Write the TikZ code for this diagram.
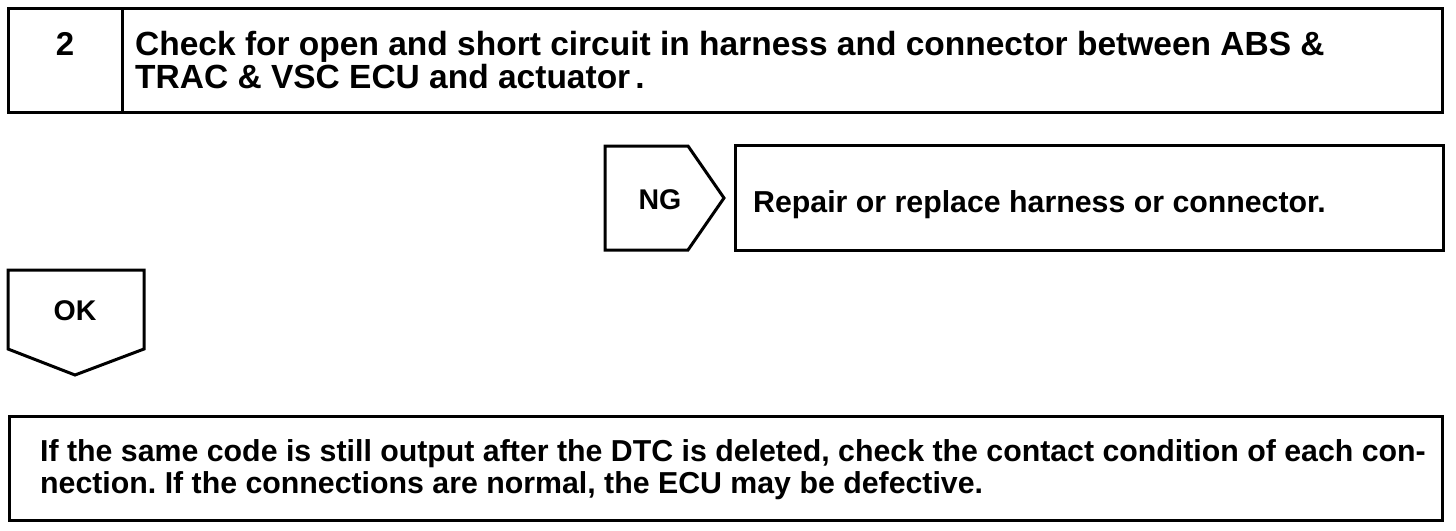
\documentclass[tikz,border=0pt]{standalone}
\usepackage{fontspec}
\setmainfont{Liberation Sans}
\frenchspacing
\begin{document}
\begin{tikzpicture}[x=1pt,y=-1pt,
  boxline/.style={draw=black, line width=3pt, line join=miter},
  plainbox/.style={boxline, inner sep=0pt, outer sep=0pt},
  head/.style={font=\fontsize{33.5}{33.5}\selectfont\bfseries, anchor=base west, inner sep=0pt},
  body/.style={font=\fontsize{30.3}{30.3}\selectfont\bfseries, anchor=base west, inner sep=0pt},
  tag/.style={font=\fontsize{28.5}{28.5}\selectfont\bfseries, anchor=base, inner sep=0pt}]
\useasboundingbox (0,0) rectangle (1456,530);
% step header
\node[plainbox, minimum width=114pt, minimum height=104pt] (numbox) at (65,60) {};
\node[plainbox, minimum width=1320pt, minimum height=104pt] (titlebox) at (782,60) {};
\node[font=\fontsize{33}{33}\selectfont\bfseries, anchor=base, inner sep=0pt] (num) at (65,55) {2};
\node[head] (title1) at (135,55) {Check for open and short circuit in harness and connector between ABS \&};
\node[head] (title2) at (135,88) {TRAC \& VSC ECU and actuator\hspace{5pt}.};
% NG branch
\coordinate (ngA) at (605,146);
\coordinate (ngB) at (688,146);
\coordinate (ngTip) at (724,198);
\coordinate (ngC) at (688,250);
\coordinate (ngD) at (605,250);
\draw[boxline] (ngA) -- (ngB) -- (ngTip) -- (ngC) -- (ngD) -- cycle;
\node[tag] (ng) at (660,209) {NG};
\node[plainbox, minimum width=708pt, minimum height=105pt] (repairbox) at (1089,197.5) {};
\node[body] (repair) at (753,212) {Repair or replace harness or connector.};
% OK branch
\coordinate (okA) at (8,270);
\coordinate (okB) at (144,270);
\coordinate (okC) at (144,349);
\coordinate (okTip) at (75,375);
\coordinate (okD) at (8,349);
\draw[boxline] (okA) -- (okB) -- (okC) -- (okTip) -- (okD) -- cycle;
\node[tag] (ok) at (75,320) {OK};
% final box
\node[plainbox, minimum width=1433pt, minimum height=104pt] (finalbox) at (725.5,468) {};
\node[body] (final1) at (40,461) {If the same code is still output after the DTC is deleted, check the contact condition of each con-};
\node[body] (final2) at (40,493) {nection. If the connections are normal, the ECU may be defective.};
\end{tikzpicture}
\end{document}
